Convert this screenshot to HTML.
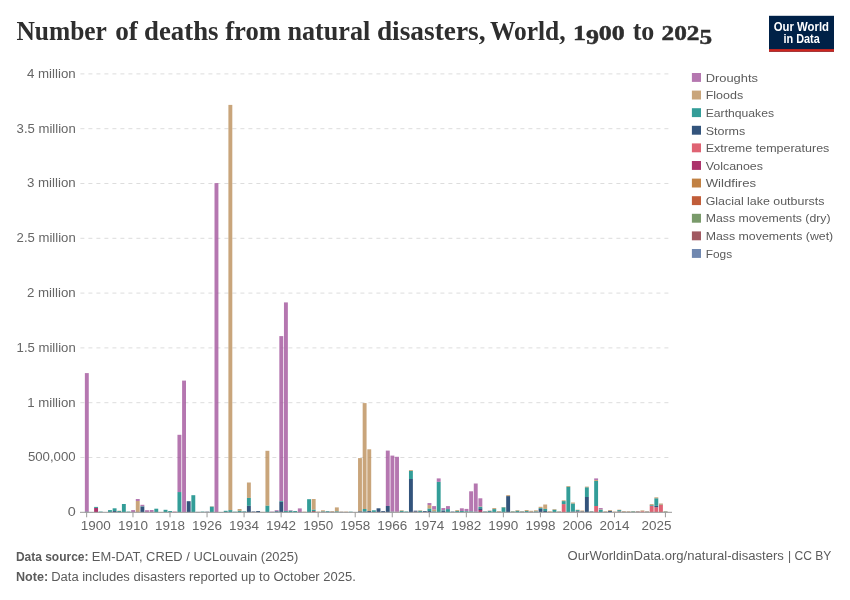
<!DOCTYPE html>
<html lang="en"><head><meta charset="utf-8"><title>Number of deaths from natural disasters, World, 1900 to 2025</title>
<style>html,body{margin:0;padding:0;background:#fff}svg{display:block}text{font-family:"Liberation Sans",sans-serif}.ttl text{font-family:"Liberation Serif",serif;font-weight:bold}</style></head><body>
<svg width="850" height="600" viewBox="0 0 850 600">
<rect width="850" height="600" fill="#fff"/>
<g class="ttl" fill="#2e2e2e" font-size="28.2">
<text x="16.4" y="40.4" textLength="90.5" lengthAdjust="spacingAndGlyphs">Number</text>
<text x="115.2" y="40.4" textLength="22.7" lengthAdjust="spacingAndGlyphs">of</text>
<text x="144.0" y="40.4" textLength="74.5" lengthAdjust="spacingAndGlyphs">deaths</text>
<text x="225.2" y="40.4" textLength="55.7" lengthAdjust="spacingAndGlyphs">from</text>
<text x="287.5" y="40.4" textLength="82.8" lengthAdjust="spacingAndGlyphs">natural</text>
<text x="376.9" y="40.4" textLength="108.7" lengthAdjust="spacingAndGlyphs">disasters,</text>
<text x="489.9" y="40.4" textLength="75.7" lengthAdjust="spacingAndGlyphs">World,</text>
<text x="572.9" y="40.4" font-size="20.6" stroke="#2e2e2e" stroke-width="0.45" textLength="51.9" lengthAdjust="spacingAndGlyphs">1<tspan dy="3.4">9</tspan><tspan dy="-3.4">00</tspan></text>
<text x="632.7" y="40.4" textLength="21.7" lengthAdjust="spacingAndGlyphs">to</text>
<text x="661.6" y="40.4" font-size="20.6" stroke="#2e2e2e" stroke-width="0.45" textLength="50.5" lengthAdjust="spacingAndGlyphs">202<tspan dy="3.4">5</tspan></text>
</g>
<g><rect x="769" y="15.8" width="65" height="35.9" fill="#002147"/><rect x="769" y="49.1" width="65" height="2.6" fill="#ce261e"/>
<text x="801.4" y="30.6" font-size="11.9" font-weight="bold" fill="#fff" text-anchor="middle" textLength="55.2" lengthAdjust="spacingAndGlyphs">Our World</text>
<text x="801.6" y="42.7" font-size="11.9" font-weight="bold" fill="#fff" text-anchor="middle" textLength="36.3" lengthAdjust="spacingAndGlyphs">in Data</text></g>
<g stroke="#ddd" stroke-width="1" stroke-dasharray="4,4">
<line x1="80.4" x2="672" y1="73.9" y2="73.9"/>
<line x1="80.4" x2="672" y1="128.7" y2="128.7"/>
<line x1="80.4" x2="672" y1="183.5" y2="183.5"/>
<line x1="80.4" x2="672" y1="238.3" y2="238.3"/>
<line x1="80.4" x2="672" y1="293.1" y2="293.1"/>
<line x1="80.4" x2="672" y1="347.9" y2="347.9"/>
<line x1="80.4" x2="672" y1="402.7" y2="402.7"/>
<line x1="80.4" x2="672" y1="457.5" y2="457.5"/>
</g>
<g font-size="12.2" fill="#666" text-anchor="end">
<text x="75.7" y="77.8" textLength="48.8" lengthAdjust="spacingAndGlyphs">4 million</text>
<text x="75.7" y="132.6" textLength="59.1" lengthAdjust="spacingAndGlyphs">3.5 million</text>
<text x="75.7" y="187.4" textLength="48.8" lengthAdjust="spacingAndGlyphs">3 million</text>
<text x="75.7" y="242.2" textLength="59.1" lengthAdjust="spacingAndGlyphs">2.5 million</text>
<text x="75.7" y="297.0" textLength="48.8" lengthAdjust="spacingAndGlyphs">2 million</text>
<text x="75.7" y="351.8" textLength="59.1" lengthAdjust="spacingAndGlyphs">1.5 million</text>
<text x="75.7" y="406.6" textLength="48.5" lengthAdjust="spacingAndGlyphs">1 million</text>
<text x="75.7" y="461.4" textLength="47.8" lengthAdjust="spacingAndGlyphs">500,000</text>
<text x="75.7" y="516.2" textLength="8.0" lengthAdjust="spacingAndGlyphs">0</text>
</g>
<g fill-opacity="0.8">
<rect x="84.87" y="511.60" width="3.9" height="0.70" fill="#00295B"/>
<rect x="84.87" y="373.10" width="3.9" height="138.50" fill="#A2559C"/>
<rect x="89.50" y="512.10" width="3.9" height="0.20" fill="#00847E"/>
<rect x="94.13" y="507.90" width="3.9" height="4.40" fill="#970046"/>
<rect x="94.13" y="506.90" width="3.9" height="1.00" fill="#00847E"/>
<rect x="98.76" y="511.60" width="3.9" height="0.70" fill="#00847E"/>
<rect x="108.02" y="510.10" width="3.9" height="2.20" fill="#00847E"/>
<rect x="112.65" y="511.00" width="3.9" height="1.30" fill="#00295B"/>
<rect x="112.65" y="508.30" width="3.9" height="2.70" fill="#00847E"/>
<rect x="117.28" y="511.00" width="3.9" height="1.30" fill="#00847E"/>
<rect x="117.28" y="510.70" width="3.9" height="0.30" fill="#BC8E5A"/>
<rect x="121.91" y="504.00" width="3.9" height="8.30" fill="#00847E"/>
<rect x="126.54" y="511.60" width="3.9" height="0.70" fill="#00847E"/>
<rect x="131.17" y="510.10" width="3.9" height="2.20" fill="#A2559C"/>
<rect x="135.80" y="501.00" width="3.9" height="11.30" fill="#BC8E5A"/>
<rect x="135.80" y="499.00" width="3.9" height="2.00" fill="#A2559C"/>
<rect x="140.43" y="506.60" width="3.9" height="5.70" fill="#00295B"/>
<rect x="140.43" y="506.20" width="3.9" height="0.40" fill="#00847E"/>
<rect x="140.43" y="504.80" width="3.9" height="1.40" fill="#A2559C"/>
<rect x="145.06" y="510.20" width="3.9" height="2.10" fill="#A2559C"/>
<rect x="149.69" y="512.00" width="3.9" height="0.30" fill="#00847E"/>
<rect x="149.69" y="510.00" width="3.9" height="2.00" fill="#A2559C"/>
<rect x="154.32" y="508.70" width="3.9" height="3.60" fill="#00847E"/>
<rect x="158.95" y="512.00" width="3.9" height="0.30" fill="#BC8E5A"/>
<rect x="163.58" y="509.80" width="3.9" height="2.50" fill="#00847E"/>
<rect x="168.21" y="511.00" width="3.9" height="1.30" fill="#00847E"/>
<rect x="172.84" y="511.70" width="3.9" height="0.60" fill="#970046"/>
<rect x="177.47" y="492.05" width="3.9" height="20.25" fill="#00847E"/>
<rect x="177.47" y="434.80" width="3.9" height="57.25" fill="#A2559C"/>
<rect x="182.10" y="380.60" width="3.9" height="131.70" fill="#A2559C"/>
<rect x="186.73" y="501.20" width="3.9" height="11.10" fill="#00295B"/>
<rect x="191.36" y="495.20" width="3.9" height="17.10" fill="#00847E"/>
<rect x="195.99" y="511.90" width="3.9" height="0.40" fill="#00295B"/>
<rect x="200.62" y="511.60" width="3.9" height="0.70" fill="#00847E"/>
<rect x="205.25" y="511.70" width="3.9" height="0.60" fill="#00295B"/>
<rect x="209.88" y="506.60" width="3.9" height="5.70" fill="#00847E"/>
<rect x="209.88" y="506.30" width="3.9" height="0.30" fill="#BC8E5A"/>
<rect x="214.51" y="183.10" width="3.9" height="329.20" fill="#A2559C"/>
<rect x="219.14" y="512.00" width="3.9" height="0.30" fill="#00847E"/>
<rect x="223.77" y="512.00" width="3.9" height="0.30" fill="#970046"/>
<rect x="223.77" y="510.80" width="3.9" height="1.20" fill="#00847E"/>
<rect x="228.40" y="510.10" width="3.9" height="2.20" fill="#00847E"/>
<rect x="228.40" y="104.90" width="3.9" height="405.20" fill="#BC8E5A"/>
<rect x="233.03" y="511.70" width="3.9" height="0.60" fill="#00847E"/>
<rect x="237.66" y="510.80" width="3.9" height="1.50" fill="#00847E"/>
<rect x="237.66" y="509.00" width="3.9" height="1.80" fill="#BC8E5A"/>
<rect x="242.29" y="511.80" width="3.9" height="0.50" fill="#00295B"/>
<rect x="242.29" y="511.30" width="3.9" height="0.50" fill="#00847E"/>
<rect x="246.92" y="505.80" width="3.9" height="6.50" fill="#00295B"/>
<rect x="246.92" y="497.90" width="3.9" height="7.90" fill="#00847E"/>
<rect x="246.92" y="482.50" width="3.9" height="15.40" fill="#BC8E5A"/>
<rect x="251.55" y="512.00" width="3.9" height="0.30" fill="#D73C50"/>
<rect x="251.55" y="511.50" width="3.9" height="0.50" fill="#00295B"/>
<rect x="256.18" y="511.00" width="3.9" height="1.30" fill="#00295B"/>
<rect x="260.81" y="511.90" width="3.9" height="0.40" fill="#BC8E5A"/>
<rect x="265.44" y="505.60" width="3.9" height="6.70" fill="#00847E"/>
<rect x="265.44" y="450.80" width="3.9" height="54.80" fill="#BC8E5A"/>
<rect x="270.07" y="512.00" width="3.9" height="0.30" fill="#00847E"/>
<rect x="270.07" y="511.60" width="3.9" height="0.40" fill="#A2559C"/>
<rect x="274.70" y="511.30" width="3.9" height="1.00" fill="#00295B"/>
<rect x="274.70" y="511.00" width="3.9" height="0.30" fill="#00847E"/>
<rect x="274.70" y="510.20" width="3.9" height="0.80" fill="#A2559C"/>
<rect x="279.33" y="501.70" width="3.9" height="10.60" fill="#00295B"/>
<rect x="279.33" y="501.00" width="3.9" height="0.70" fill="#00847E"/>
<rect x="279.33" y="336.10" width="3.9" height="164.90" fill="#A2559C"/>
<rect x="283.96" y="511.00" width="3.9" height="1.30" fill="#00847E"/>
<rect x="283.96" y="302.40" width="3.9" height="208.60" fill="#A2559C"/>
<rect x="288.59" y="510.70" width="3.9" height="1.60" fill="#00847E"/>
<rect x="288.59" y="510.20" width="3.9" height="0.50" fill="#A2559C"/>
<rect x="293.22" y="511.00" width="3.9" height="1.30" fill="#00847E"/>
<rect x="297.85" y="512.00" width="3.9" height="0.30" fill="#00847E"/>
<rect x="297.85" y="508.40" width="3.9" height="3.60" fill="#A2559C"/>
<rect x="302.48" y="511.70" width="3.9" height="0.60" fill="#BC8E5A"/>
<rect x="307.11" y="499.20" width="3.9" height="13.10" fill="#00847E"/>
<rect x="311.74" y="511.00" width="3.9" height="1.30" fill="#883039"/>
<rect x="311.74" y="509.60" width="3.9" height="1.40" fill="#00847E"/>
<rect x="311.74" y="499.00" width="3.9" height="10.60" fill="#BC8E5A"/>
<rect x="316.37" y="511.60" width="3.9" height="0.70" fill="#BC8E5A"/>
<rect x="321.00" y="511.90" width="3.9" height="0.40" fill="#970046"/>
<rect x="321.00" y="511.30" width="3.9" height="0.60" fill="#00847E"/>
<rect x="321.00" y="510.30" width="3.9" height="1.00" fill="#BC8E5A"/>
<rect x="325.63" y="511.80" width="3.9" height="0.50" fill="#00295B"/>
<rect x="325.63" y="511.10" width="3.9" height="0.70" fill="#00847E"/>
<rect x="330.26" y="511.80" width="3.9" height="0.50" fill="#00295B"/>
<rect x="330.26" y="511.10" width="3.9" height="0.70" fill="#BC8E5A"/>
<rect x="334.89" y="511.30" width="3.9" height="1.00" fill="#00847E"/>
<rect x="334.89" y="507.40" width="3.9" height="3.90" fill="#BC8E5A"/>
<rect x="339.52" y="511.90" width="3.9" height="0.40" fill="#00295B"/>
<rect x="339.52" y="511.60" width="3.9" height="0.30" fill="#BC8E5A"/>
<rect x="344.15" y="512.00" width="3.9" height="0.30" fill="#883039"/>
<rect x="344.15" y="511.60" width="3.9" height="0.40" fill="#BC8E5A"/>
<rect x="348.78" y="511.70" width="3.9" height="0.60" fill="#00847E"/>
<rect x="353.41" y="512.00" width="3.9" height="0.30" fill="#BC8E5A"/>
<rect x="358.04" y="511.30" width="3.9" height="1.00" fill="#00295B"/>
<rect x="358.04" y="458.10" width="3.9" height="53.20" fill="#BC8E5A"/>
<rect x="362.67" y="511.50" width="3.9" height="0.80" fill="#00295B"/>
<rect x="362.67" y="509.00" width="3.9" height="2.50" fill="#00847E"/>
<rect x="362.67" y="403.10" width="3.9" height="105.90" fill="#BC8E5A"/>
<rect x="367.30" y="511.00" width="3.9" height="1.30" fill="#00295B"/>
<rect x="367.30" y="449.30" width="3.9" height="61.70" fill="#BC8E5A"/>
<rect x="371.93" y="512.00" width="3.9" height="0.30" fill="#970046"/>
<rect x="371.93" y="510.30" width="3.9" height="1.70" fill="#00847E"/>
<rect x="376.56" y="512.00" width="3.9" height="0.30" fill="#970046"/>
<rect x="376.56" y="508.30" width="3.9" height="3.70" fill="#00295B"/>
<rect x="381.19" y="511.10" width="3.9" height="1.20" fill="#00295B"/>
<rect x="385.82" y="506.00" width="3.9" height="6.30" fill="#00295B"/>
<rect x="385.82" y="450.60" width="3.9" height="55.40" fill="#A2559C"/>
<rect x="390.45" y="511.70" width="3.9" height="0.60" fill="#00847E"/>
<rect x="390.45" y="455.60" width="3.9" height="56.10" fill="#A2559C"/>
<rect x="395.08" y="511.80" width="3.9" height="0.50" fill="#BC8E5A"/>
<rect x="395.08" y="456.80" width="3.9" height="55.00" fill="#A2559C"/>
<rect x="399.71" y="512.00" width="3.9" height="0.30" fill="#970046"/>
<rect x="399.71" y="510.80" width="3.9" height="1.20" fill="#00847E"/>
<rect x="399.71" y="510.20" width="3.9" height="0.60" fill="#BC8E5A"/>
<rect x="404.34" y="511.50" width="3.9" height="0.80" fill="#00847E"/>
<rect x="408.97" y="479.00" width="3.9" height="33.30" fill="#00295B"/>
<rect x="408.97" y="471.00" width="3.9" height="8.00" fill="#00847E"/>
<rect x="408.97" y="470.10" width="3.9" height="0.90" fill="#BC8E5A"/>
<rect x="413.60" y="512.00" width="3.9" height="0.30" fill="#578145"/>
<rect x="413.60" y="511.70" width="3.9" height="0.30" fill="#D73C50"/>
<rect x="413.60" y="510.70" width="3.9" height="1.00" fill="#00295B"/>
<rect x="418.23" y="510.80" width="3.9" height="1.50" fill="#00847E"/>
<rect x="418.23" y="510.30" width="3.9" height="0.50" fill="#BC8E5A"/>
<rect x="422.86" y="512.00" width="3.9" height="0.30" fill="#D73C50"/>
<rect x="422.86" y="511.10" width="3.9" height="0.90" fill="#00295B"/>
<rect x="427.49" y="511.00" width="3.9" height="1.30" fill="#00295B"/>
<rect x="427.49" y="508.50" width="3.9" height="2.50" fill="#00847E"/>
<rect x="427.49" y="505.10" width="3.9" height="3.40" fill="#BC8E5A"/>
<rect x="427.49" y="503.05" width="3.9" height="2.05" fill="#A2559C"/>
<rect x="432.12" y="511.80" width="3.9" height="0.50" fill="#00295B"/>
<rect x="432.12" y="511.30" width="3.9" height="0.50" fill="#00847E"/>
<rect x="432.12" y="509.50" width="3.9" height="1.80" fill="#BC8E5A"/>
<rect x="432.12" y="506.10" width="3.9" height="3.40" fill="#A2559C"/>
<rect x="436.75" y="481.80" width="3.9" height="30.50" fill="#00847E"/>
<rect x="436.75" y="478.40" width="3.9" height="3.40" fill="#A2559C"/>
<rect x="441.38" y="511.00" width="3.9" height="1.30" fill="#00295B"/>
<rect x="441.38" y="510.30" width="3.9" height="0.70" fill="#00847E"/>
<rect x="441.38" y="508.05" width="3.9" height="2.25" fill="#A2559C"/>
<rect x="446.01" y="509.10" width="3.9" height="3.20" fill="#00847E"/>
<rect x="446.01" y="506.10" width="3.9" height="3.00" fill="#A2559C"/>
<rect x="450.64" y="512.00" width="3.9" height="0.30" fill="#578145"/>
<rect x="450.64" y="511.60" width="3.9" height="0.40" fill="#00295B"/>
<rect x="455.27" y="512.00" width="3.9" height="0.30" fill="#D73C50"/>
<rect x="455.27" y="511.00" width="3.9" height="1.00" fill="#00847E"/>
<rect x="455.27" y="510.10" width="3.9" height="0.90" fill="#BC8E5A"/>
<rect x="459.90" y="511.00" width="3.9" height="1.30" fill="#00847E"/>
<rect x="459.90" y="508.30" width="3.9" height="2.70" fill="#A2559C"/>
<rect x="464.53" y="511.80" width="3.9" height="0.50" fill="#578145"/>
<rect x="464.53" y="511.10" width="3.9" height="0.70" fill="#00847E"/>
<rect x="464.53" y="508.90" width="3.9" height="2.20" fill="#A2559C"/>
<rect x="469.16" y="511.90" width="3.9" height="0.40" fill="#578145"/>
<rect x="469.16" y="511.30" width="3.9" height="0.60" fill="#00847E"/>
<rect x="469.16" y="491.30" width="3.9" height="20.00" fill="#A2559C"/>
<rect x="473.79" y="511.70" width="3.9" height="0.60" fill="#00847E"/>
<rect x="473.79" y="483.50" width="3.9" height="28.20" fill="#A2559C"/>
<rect x="478.42" y="510.00" width="3.9" height="2.30" fill="#970046"/>
<rect x="478.42" y="508.30" width="3.9" height="1.70" fill="#00295B"/>
<rect x="478.42" y="506.80" width="3.9" height="1.50" fill="#00847E"/>
<rect x="478.42" y="506.40" width="3.9" height="0.40" fill="#BC8E5A"/>
<rect x="478.42" y="498.30" width="3.9" height="8.10" fill="#A2559C"/>
<rect x="483.05" y="512.10" width="3.9" height="0.20" fill="#578145"/>
<rect x="483.05" y="511.80" width="3.9" height="0.30" fill="#970046"/>
<rect x="483.05" y="511.40" width="3.9" height="0.40" fill="#00847E"/>
<rect x="487.68" y="511.00" width="3.9" height="1.30" fill="#00847E"/>
<rect x="487.68" y="510.70" width="3.9" height="0.30" fill="#BC8E5A"/>
<rect x="487.68" y="510.50" width="3.9" height="0.20" fill="#A2559C"/>
<rect x="492.31" y="509.10" width="3.9" height="3.20" fill="#00847E"/>
<rect x="492.31" y="508.05" width="3.9" height="1.05" fill="#BC8E5A"/>
<rect x="496.94" y="511.80" width="3.9" height="0.50" fill="#00295B"/>
<rect x="496.94" y="511.10" width="3.9" height="0.70" fill="#BC8E5A"/>
<rect x="501.57" y="507.30" width="3.9" height="5.00" fill="#00847E"/>
<rect x="501.57" y="507.00" width="3.9" height="0.30" fill="#BC8E5A"/>
<rect x="506.20" y="496.10" width="3.9" height="16.20" fill="#00295B"/>
<rect x="506.20" y="495.10" width="3.9" height="1.00" fill="#BC8E5A"/>
<rect x="510.83" y="512.00" width="3.9" height="0.30" fill="#578145"/>
<rect x="510.83" y="511.50" width="3.9" height="0.50" fill="#00847E"/>
<rect x="510.83" y="511.10" width="3.9" height="0.40" fill="#BC8E5A"/>
<rect x="515.46" y="510.80" width="3.9" height="1.50" fill="#00847E"/>
<rect x="515.46" y="510.10" width="3.9" height="0.70" fill="#BC8E5A"/>
<rect x="520.09" y="511.80" width="3.9" height="0.50" fill="#00295B"/>
<rect x="520.09" y="511.50" width="3.9" height="0.30" fill="#00847E"/>
<rect x="520.09" y="511.10" width="3.9" height="0.40" fill="#BC8E5A"/>
<rect x="524.72" y="512.00" width="3.9" height="0.30" fill="#D73C50"/>
<rect x="524.72" y="511.00" width="3.9" height="1.00" fill="#00847E"/>
<rect x="524.72" y="510.00" width="3.9" height="1.00" fill="#BC8E5A"/>
<rect x="529.35" y="511.80" width="3.9" height="0.50" fill="#00295B"/>
<rect x="529.35" y="510.80" width="3.9" height="1.00" fill="#BC8E5A"/>
<rect x="533.98" y="511.90" width="3.9" height="0.40" fill="#00295B"/>
<rect x="533.98" y="511.30" width="3.9" height="0.60" fill="#00847E"/>
<rect x="533.98" y="510.30" width="3.9" height="1.00" fill="#BC8E5A"/>
<rect x="538.61" y="508.90" width="3.9" height="3.40" fill="#00295B"/>
<rect x="538.61" y="508.05" width="3.9" height="0.85" fill="#00847E"/>
<rect x="538.61" y="506.80" width="3.9" height="1.25" fill="#BC8E5A"/>
<rect x="543.24" y="511.00" width="3.9" height="1.30" fill="#00295B"/>
<rect x="543.24" y="508.90" width="3.9" height="2.10" fill="#00847E"/>
<rect x="543.24" y="504.50" width="3.9" height="4.40" fill="#BC8E5A"/>
<rect x="547.87" y="511.30" width="3.9" height="1.00" fill="#BC8E5A"/>
<rect x="552.50" y="512.00" width="3.9" height="0.30" fill="#D73C50"/>
<rect x="552.50" y="509.70" width="3.9" height="2.30" fill="#00847E"/>
<rect x="552.50" y="509.10" width="3.9" height="0.60" fill="#BC8E5A"/>
<rect x="557.13" y="512.00" width="3.9" height="0.30" fill="#D73C50"/>
<rect x="557.13" y="511.70" width="3.9" height="0.30" fill="#00847E"/>
<rect x="557.13" y="511.30" width="3.9" height="0.40" fill="#BC8E5A"/>
<rect x="561.76" y="504.10" width="3.9" height="8.20" fill="#D73C50"/>
<rect x="561.76" y="501.10" width="3.9" height="3.00" fill="#00847E"/>
<rect x="561.76" y="500.30" width="3.9" height="0.80" fill="#BC8E5A"/>
<rect x="566.39" y="486.80" width="3.9" height="25.50" fill="#00847E"/>
<rect x="566.39" y="486.00" width="3.9" height="0.80" fill="#BC8E5A"/>
<rect x="571.02" y="512.00" width="3.9" height="0.30" fill="#D73C50"/>
<rect x="571.02" y="511.50" width="3.9" height="0.50" fill="#00295B"/>
<rect x="571.02" y="503.50" width="3.9" height="8.00" fill="#00847E"/>
<rect x="571.02" y="502.50" width="3.9" height="1.00" fill="#BC8E5A"/>
<rect x="575.65" y="511.70" width="3.9" height="0.60" fill="#D73C50"/>
<rect x="575.65" y="511.10" width="3.9" height="0.60" fill="#00295B"/>
<rect x="575.65" y="510.10" width="3.9" height="1.00" fill="#00847E"/>
<rect x="575.65" y="509.70" width="3.9" height="0.40" fill="#BC8E5A"/>
<rect x="580.28" y="512.00" width="3.9" height="0.30" fill="#D73C50"/>
<rect x="580.28" y="511.40" width="3.9" height="0.60" fill="#00295B"/>
<rect x="580.28" y="510.50" width="3.9" height="0.90" fill="#BC8E5A"/>
<rect x="584.91" y="497.00" width="3.9" height="15.30" fill="#00295B"/>
<rect x="584.91" y="487.30" width="3.9" height="9.70" fill="#00847E"/>
<rect x="584.91" y="486.60" width="3.9" height="0.70" fill="#BC8E5A"/>
<rect x="589.54" y="512.00" width="3.9" height="0.30" fill="#D73C50"/>
<rect x="589.54" y="511.70" width="3.9" height="0.30" fill="#00295B"/>
<rect x="589.54" y="511.40" width="3.9" height="0.30" fill="#00847E"/>
<rect x="589.54" y="511.10" width="3.9" height="0.30" fill="#BC8E5A"/>
<rect x="594.17" y="506.00" width="3.9" height="6.30" fill="#D73C50"/>
<rect x="594.17" y="481.00" width="3.9" height="25.00" fill="#00847E"/>
<rect x="594.17" y="480.00" width="3.9" height="1.00" fill="#BC8E5A"/>
<rect x="594.17" y="478.40" width="3.9" height="1.60" fill="#A2559C"/>
<rect x="598.80" y="509.70" width="3.9" height="2.60" fill="#00847E"/>
<rect x="598.80" y="509.30" width="3.9" height="0.40" fill="#BC8E5A"/>
<rect x="598.80" y="508.05" width="3.9" height="1.25" fill="#A2559C"/>
<rect x="603.43" y="511.90" width="3.9" height="0.40" fill="#00295B"/>
<rect x="603.43" y="511.30" width="3.9" height="0.60" fill="#BC8E5A"/>
<rect x="608.06" y="511.00" width="3.9" height="1.30" fill="#00295B"/>
<rect x="608.06" y="510.10" width="3.9" height="0.90" fill="#BC8E5A"/>
<rect x="612.69" y="511.60" width="3.9" height="0.70" fill="#BC8E5A"/>
<rect x="617.32" y="511.50" width="3.9" height="0.80" fill="#D73C50"/>
<rect x="617.32" y="510.10" width="3.9" height="1.40" fill="#00847E"/>
<rect x="617.32" y="509.70" width="3.9" height="0.40" fill="#BC8E5A"/>
<rect x="621.95" y="511.80" width="3.9" height="0.50" fill="#00295B"/>
<rect x="621.95" y="511.10" width="3.9" height="0.70" fill="#BC8E5A"/>
<rect x="626.58" y="511.80" width="3.9" height="0.50" fill="#00295B"/>
<rect x="626.58" y="511.20" width="3.9" height="0.60" fill="#BC8E5A"/>
<rect x="631.21" y="511.40" width="3.9" height="0.90" fill="#00847E"/>
<rect x="631.21" y="511.00" width="3.9" height="0.40" fill="#BC8E5A"/>
<rect x="635.84" y="511.80" width="3.9" height="0.50" fill="#D73C50"/>
<rect x="635.84" y="511.50" width="3.9" height="0.30" fill="#00295B"/>
<rect x="635.84" y="511.10" width="3.9" height="0.40" fill="#BC8E5A"/>
<rect x="640.47" y="511.30" width="3.9" height="1.00" fill="#D73C50"/>
<rect x="640.47" y="510.40" width="3.9" height="0.90" fill="#BC8E5A"/>
<rect x="645.10" y="512.10" width="3.9" height="0.20" fill="#578145"/>
<rect x="645.10" y="511.70" width="3.9" height="0.40" fill="#00295B"/>
<rect x="645.10" y="511.20" width="3.9" height="0.50" fill="#BC8E5A"/>
<rect x="649.73" y="506.00" width="3.9" height="6.30" fill="#D73C50"/>
<rect x="649.73" y="505.70" width="3.9" height="0.30" fill="#00295B"/>
<rect x="649.73" y="505.10" width="3.9" height="0.60" fill="#00847E"/>
<rect x="649.73" y="504.10" width="3.9" height="1.00" fill="#BC8E5A"/>
<rect x="654.36" y="507.20" width="3.9" height="5.10" fill="#D73C50"/>
<rect x="654.36" y="505.80" width="3.9" height="1.40" fill="#00295B"/>
<rect x="654.36" y="498.30" width="3.9" height="7.50" fill="#00847E"/>
<rect x="654.36" y="497.30" width="3.9" height="1.00" fill="#BC8E5A"/>
<rect x="658.99" y="505.00" width="3.9" height="7.30" fill="#D73C50"/>
<rect x="658.99" y="504.70" width="3.9" height="0.30" fill="#00295B"/>
<rect x="658.99" y="503.50" width="3.9" height="1.20" fill="#BC8E5A"/>
<rect x="663.62" y="512.00" width="3.9" height="0.30" fill="#578145"/>
<rect x="663.62" y="511.60" width="3.9" height="0.40" fill="#00847E"/>
<rect x="663.62" y="511.10" width="3.9" height="0.50" fill="#BC8E5A"/>
</g>
<line x1="80" x2="672" y1="512.3" y2="512.3" stroke="#999" stroke-width="1"/>
<g stroke="#999" stroke-width="1">
<line x1="86.67" x2="86.67" y1="512.3" y2="517.3"/>
<line x1="132.97" x2="132.97" y1="512.3" y2="517.3"/>
<line x1="170.01" x2="170.01" y1="512.3" y2="517.3"/>
<line x1="207.05" x2="207.05" y1="512.3" y2="517.3"/>
<line x1="244.09" x2="244.09" y1="512.3" y2="517.3"/>
<line x1="281.13" x2="281.13" y1="512.3" y2="517.3"/>
<line x1="318.17" x2="318.17" y1="512.3" y2="517.3"/>
<line x1="355.21" x2="355.21" y1="512.3" y2="517.3"/>
<line x1="392.25" x2="392.25" y1="512.3" y2="517.3"/>
<line x1="429.29" x2="429.29" y1="512.3" y2="517.3"/>
<line x1="466.33" x2="466.33" y1="512.3" y2="517.3"/>
<line x1="503.37" x2="503.37" y1="512.3" y2="517.3"/>
<line x1="540.41" x2="540.41" y1="512.3" y2="517.3"/>
<line x1="577.45" x2="577.45" y1="512.3" y2="517.3"/>
<line x1="614.49" x2="614.49" y1="512.3" y2="517.3"/>
<line x1="665.42" x2="665.42" y1="512.3" y2="517.3"/>
</g>
<g font-size="12.6" fill="#666" text-anchor="middle">
<text x="95.80" y="530.2" textLength="30" lengthAdjust="spacingAndGlyphs">1900</text>
<text x="132.97" y="530.2" textLength="30" lengthAdjust="spacingAndGlyphs">1910</text>
<text x="170.01" y="530.2" textLength="30" lengthAdjust="spacingAndGlyphs">1918</text>
<text x="207.05" y="530.2" textLength="30" lengthAdjust="spacingAndGlyphs">1926</text>
<text x="244.09" y="530.2" textLength="30" lengthAdjust="spacingAndGlyphs">1934</text>
<text x="281.13" y="530.2" textLength="30" lengthAdjust="spacingAndGlyphs">1942</text>
<text x="318.17" y="530.2" textLength="30" lengthAdjust="spacingAndGlyphs">1950</text>
<text x="355.21" y="530.2" textLength="30" lengthAdjust="spacingAndGlyphs">1958</text>
<text x="392.25" y="530.2" textLength="30" lengthAdjust="spacingAndGlyphs">1966</text>
<text x="429.29" y="530.2" textLength="30" lengthAdjust="spacingAndGlyphs">1974</text>
<text x="466.33" y="530.2" textLength="30" lengthAdjust="spacingAndGlyphs">1982</text>
<text x="503.37" y="530.2" textLength="30" lengthAdjust="spacingAndGlyphs">1990</text>
<text x="540.41" y="530.2" textLength="30" lengthAdjust="spacingAndGlyphs">1998</text>
<text x="577.45" y="530.2" textLength="30" lengthAdjust="spacingAndGlyphs">2006</text>
<text x="614.49" y="530.2" textLength="30" lengthAdjust="spacingAndGlyphs">2014</text>
<text x="656.60" y="530.2" textLength="30" lengthAdjust="spacingAndGlyphs">2025</text>
</g>
<g font-size="11.6" fill="#5b5b5b">
<rect x="691.9" y="73.00" width="9.1" height="8.9" fill="#A2559C" fill-opacity="0.8"/>
<text x="705.7" y="81.75" textLength="52.3" lengthAdjust="spacingAndGlyphs">Droughts</text>
<rect x="691.9" y="90.60" width="9.1" height="8.9" fill="#BC8E5A" fill-opacity="0.8"/>
<text x="705.7" y="99.34" textLength="37.5" lengthAdjust="spacingAndGlyphs">Floods</text>
<rect x="691.9" y="108.20" width="9.1" height="8.9" fill="#00847E" fill-opacity="0.8"/>
<text x="705.7" y="116.93" textLength="68.4" lengthAdjust="spacingAndGlyphs">Earthquakes</text>
<rect x="691.9" y="125.80" width="9.1" height="8.9" fill="#00295B" fill-opacity="0.8"/>
<text x="705.7" y="134.52" textLength="39.6" lengthAdjust="spacingAndGlyphs">Storms</text>
<rect x="691.9" y="143.40" width="9.1" height="8.9" fill="#D73C50" fill-opacity="0.8"/>
<text x="705.7" y="152.11" textLength="123.7" lengthAdjust="spacingAndGlyphs">Extreme temperatures</text>
<rect x="691.9" y="161.00" width="9.1" height="8.9" fill="#970046" fill-opacity="0.8"/>
<text x="705.7" y="169.70" textLength="57.3" lengthAdjust="spacingAndGlyphs">Volcanoes</text>
<rect x="691.9" y="178.60" width="9.1" height="8.9" fill="#B16214" fill-opacity="0.8"/>
<text x="705.7" y="187.29" textLength="50.4" lengthAdjust="spacingAndGlyphs">Wildfires</text>
<rect x="691.9" y="196.20" width="9.1" height="8.9" fill="#B13507" fill-opacity="0.8"/>
<text x="705.7" y="204.88" textLength="118.7" lengthAdjust="spacingAndGlyphs">Glacial lake outbursts</text>
<rect x="691.9" y="213.80" width="9.1" height="8.9" fill="#578145" fill-opacity="0.8"/>
<text x="705.7" y="222.47" textLength="124.9" lengthAdjust="spacingAndGlyphs">Mass movements (dry)</text>
<rect x="691.9" y="231.40" width="9.1" height="8.9" fill="#883039" fill-opacity="0.8"/>
<text x="705.7" y="240.06" textLength="127.5" lengthAdjust="spacingAndGlyphs">Mass movements (wet)</text>
<rect x="691.9" y="249.00" width="9.1" height="8.9" fill="#4C6A9C" fill-opacity="0.8"/>
<text x="705.7" y="257.65" textLength="26.4" lengthAdjust="spacingAndGlyphs">Fogs</text>
</g>
<g font-size="12.5" fill="#5b5b5b">
<text x="15.9" y="560.5" font-weight="bold" textLength="72.6" lengthAdjust="spacingAndGlyphs">Data source:</text>
<text x="91.8" y="560.5" textLength="206.4" lengthAdjust="spacingAndGlyphs">EM-DAT, CRED / UCLouvain (2025)</text>
<text x="15.9" y="580.5" font-weight="bold" textLength="32.2" lengthAdjust="spacingAndGlyphs">Note:</text>
<text x="51.2" y="580.5" textLength="304.6" lengthAdjust="spacingAndGlyphs">Data includes disasters reported up to October 2025.</text>
<text x="567.6" y="560.3" textLength="216.3" lengthAdjust="spacingAndGlyphs">OurWorldinData.org/natural-disasters</text>
<text x="788.0" y="560.3" textLength="43.4" lengthAdjust="spacingAndGlyphs">| CC BY</text>
</g>
</svg></body></html>
